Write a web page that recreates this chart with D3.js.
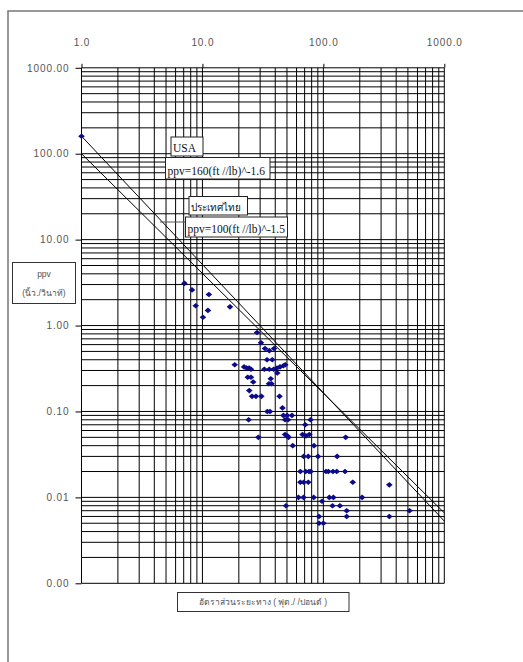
<!DOCTYPE html>
<meta charset="utf-8">
<style>
body { margin: 0; background: #fff; }
text { font-family: "Liberation Sans", Arial, sans-serif; }
</style>
<body>
<script src="https://cdnjs.cloudflare.com/ajax/libs/d3/7.8.5/d3.min.js"></script>
<script>
// scaled distance (ft / lb^0.5) and ppv (in/s)
var distRatio = [1.0, 7.1, 8.2, 11.3, 8.8, 11.1, 10.1, 16.9,
  28.3, 30.5, 32.9, 35.7, 39.1, 34.2, 37.8, 18.5, 22.1, 23.2, 24.3, 25.2,
  32.5, 35.7, 38.8, 41.4, 43.8, 46.7, 48.4, 41.6, 23.7, 25.2, 36.7, 26.3,
  35.5, 37.3, 24.4, 25.7, 27.7, 30.7, 43.4, 45.9, 34.4, 36.2, 46.7, 50.1,
  55.0, 24.1, 48.2, 51.0, 78.3, 70.8, 29.0, 48.2, 50.3, 51.5, 67.2, 71.8,
  76.5, 153, 55.8, 83.7, 68.8, 75.0, 90.3, 130, 64.5, 71.4, 76.1, 78.6,
  105, 110, 120, 129, 151, 64.5, 68.8, 75.0, 175, 351, 62.3, 68.5, 83.2,
  112, 121, 209, 97.5, 49.1, 119, 137, 156, 516, 92.0, 156, 351, 92.0, 100];
var ppv = [160, 3.1, 2.6, 2.3, 1.7, 1.5, 1.25, 1.65,
  0.83, 0.63, 0.54, 0.51, 0.54, 0.40, 0.40, 0.35, 0.33, 0.32, 0.32, 0.31,
  0.31, 0.31, 0.31, 0.32, 0.33, 0.34, 0.35, 0.28, 0.25, 0.25, 0.24, 0.22,
  0.21, 0.21, 0.175, 0.15, 0.15, 0.15, 0.15, 0.11, 0.10, 0.10, 0.09, 0.09,
  0.09, 0.08, 0.08, 0.08, 0.08, 0.07, 0.05, 0.054, 0.052, 0.05, 0.054, 0.052,
  0.054, 0.05, 0.04, 0.04, 0.03, 0.03, 0.03, 0.03, 0.02, 0.02, 0.02, 0.02,
  0.02, 0.02, 0.02, 0.02, 0.02, 0.015, 0.015, 0.015, 0.015, 0.014, 0.01, 0.01, 0.01,
  0.01, 0.01, 0.01, 0.009, 0.008, 0.008, 0.008, 0.007, 0.007, 0.006, 0.006, 0.006, 0.005, 0.005];

var xDecades = [1, 10, 100, 1000];
var yDecades = [0.001, 0.01, 0.1, 1, 10, 100, 1000];

// criteria lines as drawn on the chart (end points)
var usaLine = [[1, 160], [1000, 0.0053]];
var thaiLine = [[1, 100], [1000, 0.0066]];

var labels = [
  {text: "USA", x: 171, y: 137, w: 32, h: 19, size: 11.5},
  {text: "ppv=160(ft //lb)^-1.6", x: 165.5, y: 157.5, w: 104.5, h: 21.5, size: 11.5},
  {text: "ประเทศไทย", x: 189, y: 196.5, w: 58.5, h: 18.5, size: 10},
  {text: "ppv=100(ft //lb)^-1.5", x: 185.5, y: 217, w: 102, h: 20, size: 11.5}
];

var width = 523, height = 662;
var svg = d3.select("body").append("svg")
  .attr("width", width)
  .attr("height", height);

// outer frame
svg.append("path")
  .attr("d", "M8,662V11H523")
  .attr("fill", "none")
  .attr("stroke", "#777")
  .attr("stroke-width", 1.5);

var x = d3.scaleLog().domain([1, 1000]).range([81.5, 444.3]);
var y = d3.scaleLog().domain([0.001, 1000]).range([583.3, 67.8]);

function gridValues(decades) {
  var v = [];
  for (var i = 0; i < decades.length - 1; i++)
    for (var k = 1; k < 10; k++) v.push(decades[i] * k);
  v.push(decades[decades.length - 1]);
  return v;
}

var grid = svg.append("g");
grid.selectAll("line.v")
  .data(gridValues(xDecades))
  .enter().append("line")
  .attr("x1", d => x(d)).attr("x2", d => x(d))
  .attr("y1", y.range()[1]).attr("y2", y.range()[0])
  .attr("stroke", "#000").attr("stroke-width", 1);
grid.selectAll("line.h")
  .data(gridValues(yDecades))
  .enter().append("line")
  .attr("y1", d => y(d)).attr("y2", d => y(d))
  .attr("x1", x.range()[0]).attr("x2", x.range()[1])
  .attr("stroke", "#000").attr("stroke-width", 1);

// axes
var yAxis = svg.append("g")
  .attr("transform", "translate(" + x.range()[0] + ",0)")
  .call(d3.axisLeft(y).tickValues(yDecades).tickFormat(d3.format(".2f")).tickSize(6).tickPadding(6));
var xAxis = svg.append("g")
  .attr("transform", "translate(0," + y.range()[1] + ")")
  .call(d3.axisTop(x).tickValues(xDecades).tickFormat(d3.format(".1f")).tickSize(4).tickPadding(18));
[xAxis, yAxis].forEach(function(a) {
  a.select(".domain").remove();
  a.selectAll("line").attr("stroke", "#000");
  a.selectAll("text")
    .attr("fill", "#555")
    .style("font-size", "10px")
    .style("letter-spacing", "0.9px");
});

// criteria lines
var line = d3.line().x(d => x(d[0])).y(d => y(d[1]));
[usaLine, thaiLine].forEach(function(l) {
  svg.append("path").attr("d", line(l))
    .attr("fill", "none").attr("stroke", "#000").attr("stroke-width", 1);
});

// leader line for Thai label
svg.append("line")
  .attr("x1", 160).attr("x2", 185.5).attr("y1", 222).attr("y2", 222)
  .attr("stroke", "#555").attr("stroke-width", 1);

// points
svg.append("g").selectAll("path")
  .data(d3.range(distRatio.length))
  .enter().append("path")
  .attr("d", "M0,-2.8L3.3,0L0,2.8L-3.3,0Z")
  .attr("transform", i => "translate(" + x(distRatio[i]) + "," + y(ppv[i]) + ")")
  .attr("fill", "#0b0b8a");

// label boxes
var lab = svg.append("g").selectAll("g").data(labels).enter().append("g");
lab.append("rect")
  .attr("x", d => d.x).attr("y", d => d.y)
  .attr("width", d => d.w).attr("height", d => d.h)
  .attr("fill", "#fff").attr("stroke", "#222").attr("stroke-width", 1);
lab.append("text")
  .attr("x", d => d.x + 2).attr("y", d => d.y + d.h - 4.5)
  .style("font-family", "'Liberation Serif', 'Times New Roman', serif")
  .style("font-size", d => d.size + "px")
  .attr("fill", "#111")
  .text(d => d.text);

// y title box
svg.append("rect").attr("x", 12.5).attr("y", 262.5).attr("width", 63).attr("height", 41)
  .attr("fill", "#fff").attr("stroke", "#333");
svg.append("text").attr("x", 44).attr("y", 277).attr("text-anchor", "middle")
  .style("font-size", "8.5px").attr("fill", "#555").text("ppv");
svg.append("text").attr("x", 44).attr("y", 296).attr("text-anchor", "middle")
  .style("font-size", "8.5px").attr("fill", "#555").text("(นิ้ว./วินาที)");

// x title box
svg.append("rect").attr("x", 177.5).attr("y", 592.5).attr("width", 171.5).attr("height", 19)
  .attr("fill", "#fff").attr("stroke", "#333");
svg.append("text").attr("x", 263).attr("y", 605).attr("text-anchor", "middle")
  .style("font-size", "8.5px").attr("fill", "#555").text("อัตราส่วนระยะทาง ( ฟุต./ /ปอนด์ )");
</script>
</body>
